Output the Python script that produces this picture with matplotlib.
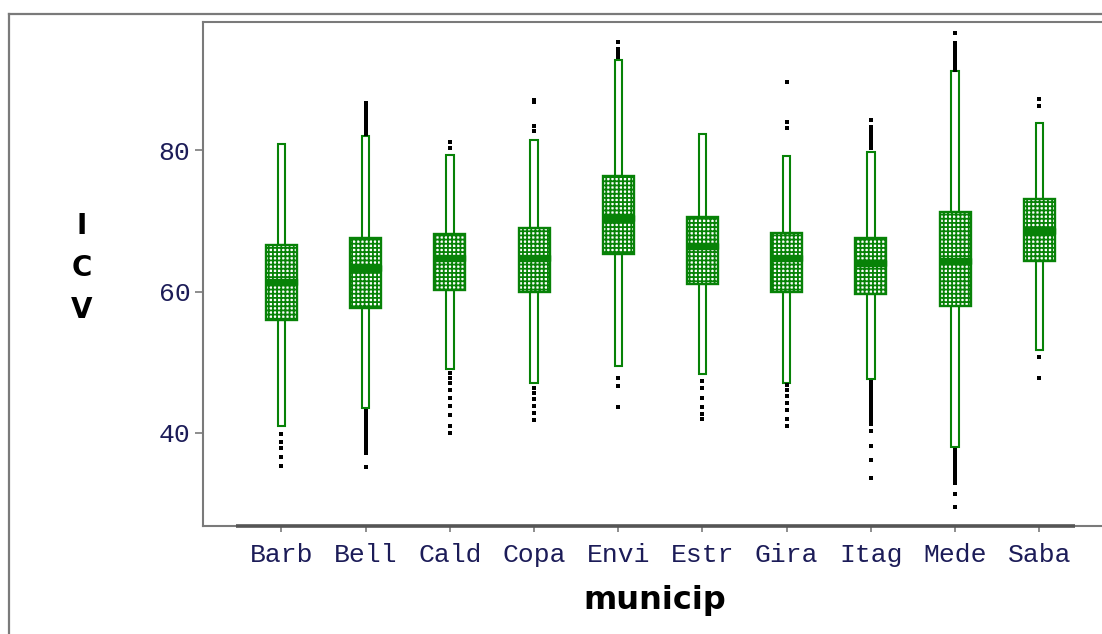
import matplotlib
matplotlib.use("Agg")
import matplotlib.pyplot as plt
from matplotlib.patches import Rectangle
from matplotlib.lines import Line2D

# ---- data -------------------------------------------------------------
municip = ["Barb", "Bell", "Cald", "Copa", "Envi", "Estr", "Gira", "Itag", "Mede", "Saba"]
q1 = [56.0, 57.7, 60.3, 60.0, 65.4, 61.1, 60.0, 59.6, 57.9, 64.4]
median = [61.3, 63.4, 64.8, 64.7, 70.5, 66.4, 64.7, 64.1, 64.4, 68.6]
q3 = [66.6, 67.6, 68.1, 69.0, 76.4, 70.6, 68.3, 67.6, 71.3, 73.1]
whisker_low = [40.9, 43.5, 49.1, 47.0, 49.5, 48.4, 47.1, 47.6, 38.0, 51.7]
whisker_high = [80.9, 82.0, 79.4, 81.5, 92.8, 82.3, 79.2, 79.8, 91.2, 83.9]

outliers = {
    "Barb": [39.8, 38.7, 37.8, 36.6, 35.3],
    "Bell": [82.4, 82.8, 83.2, 83.6, 84.0, 84.4, 84.8, 85.2, 85.6, 86.0, 86.4, 86.7,
             43.1, 42.7, 42.3, 41.9, 41.5, 41.1, 40.7, 40.3, 39.9, 39.5, 39.1, 38.7,
             38.3, 37.9, 37.5, 37.1, 35.1],
    "Cald": [80.3, 81.2, 48.5, 47.8, 47.0, 46.0, 45.0, 43.8, 42.5, 41.0, 40.0],
    "Copa": [82.8, 83.5, 86.8, 87.2, 46.3, 45.6, 44.8, 43.8, 42.8, 41.8],
    "Envi": [93.2, 93.6, 94.0, 94.4, 95.3, 47.8, 46.7, 43.6],
    "Estr": [47.3, 46.4, 45.0, 43.6, 42.6, 42.0],
    "Gira": [83.2, 84.0, 89.7, 46.8, 46.0, 45.2, 44.2, 43.2, 42.0, 41.0],
    "Itag": [80.3, 80.8, 81.3, 81.8, 82.3, 82.8, 83.3, 84.3,
             47.2, 46.8, 46.4, 46.0, 45.6, 45.2, 44.8, 44.4, 44.0, 43.6, 43.2,
             42.8, 42.4, 42.0, 41.6, 41.2, 40.2, 38.2, 36.1, 33.6],
    "Mede": [91.4, 91.9, 92.4, 92.9, 93.4, 93.9, 94.4, 94.9, 95.2, 96.6,
             37.6, 37.2, 36.8, 36.4, 36.0, 35.6, 35.2, 34.8, 34.4, 34.0, 33.6,
             33.2, 32.9, 31.3, 29.5],
    "Saba": [86.3, 87.3, 50.8, 47.8],
}

y_ticks = [40, 60, 80]

# ---- style ------------------------------------------------------------
GREEN = "#078207"
FRAME = "#7a7a7a"
TICK_TEXT = "#1c1c58"
plt.rcParams["hatch.linewidth"] = 1.3

fig = plt.figure(figsize=(11.02, 6.34), dpi=100)
fig.patch.set_facecolor("white")

# outer graph border (only left and top edges fall inside the canvas)
fig.add_artist(Line2D([9 / 1102, 9 / 1102], [0, 1 - 14 / 634],
                      transform=fig.transFigure, color=FRAME, lw=1.6))
fig.add_artist(Line2D([9 / 1102, 1], [1 - 14 / 634, 1 - 14 / 634],
                      transform=fig.transFigure, color=FRAME, lw=1.6))

ax = fig.add_axes([203 / 1102, 1 - 526 / 634, (1115 - 203) / 1102, (526 - 22) / 634])
ax.set_xlim(0.068, 10.9)
ax.set_ylim(26.8, 98.2)

for side in ("left", "top", "bottom", "right"):
    ax.spines[side].set_color(FRAME)
    ax.spines[side].set_linewidth(1.5)

positions = list(range(1, len(municip) + 1))
box_w = 0.368
whisk_w = 0.088
med_h = 0.85

for x, name, lo, a, m, b, hi in zip(positions, municip, whisker_low, q1, median, q3, whisker_high):
    # hollow whisker bars
    ax.add_patch(Rectangle((x - whisk_w / 2, lo), whisk_w, a - lo,
                           facecolor="white", edgecolor=GREEN, lw=1.5, zorder=2))
    ax.add_patch(Rectangle((x - whisk_w / 2, b), whisk_w, hi - b,
                           facecolor="white", edgecolor=GREEN, lw=1.5, zorder=2))
    # dotted interquartile box
    ax.add_patch(Rectangle((x - box_w / 2, a), box_w, b - a,
                           facecolor="white", edgecolor=GREEN, hatch="++++",
                           lw=1.7, zorder=3))
    # median band
    ax.add_patch(Rectangle((x - box_w / 2, m - med_h / 2), box_w, med_h,
                           facecolor=GREEN, edgecolor=GREEN, lw=1.0, zorder=4))
    pts = outliers[name]
    ax.plot([x] * len(pts), pts, linestyle="none", marker="s", markersize=3.4,
            color="black", markeredgewidth=0, zorder=5)

# heavy baseline under the categories
ax.plot([0.46, 10.42], [26.8, 26.8], color="#555555", lw=2.6,
        solid_capstyle="butt", clip_on=False, zorder=6)

ax.set_xticks(positions)
ax.set_xticklabels(municip)
ax.set_yticks(y_ticks)
ax.set_yticklabels([str(v) for v in y_ticks])
ax.tick_params(axis="x", length=4, width=1.2, color=FRAME, pad=8)
ax.tick_params(axis="y", length=6, width=1.2, color=FRAME, pad=3)
for lab in ax.get_xticklabels() + ax.get_yticklabels():
    lab.set_fontfamily("Liberation Mono")
    lab.set_fontsize(19)
    lab.set_color(TICK_TEXT)

fig.text(655 / 1102, 1 - 601 / 634, "municip", ha="center", va="center",
         fontfamily="DejaVu Sans", fontweight="bold", fontsize=23, color="black")
fig.text(82 / 1102, 1 - 268 / 634, "I\nC\nV", ha="center", va="center",
         fontfamily="DejaVu Sans", fontweight="bold", fontsize=20, color="black",
         linespacing=1.62, multialignment="center")

fig.savefig("out.png", dpi=100, facecolor="white")
